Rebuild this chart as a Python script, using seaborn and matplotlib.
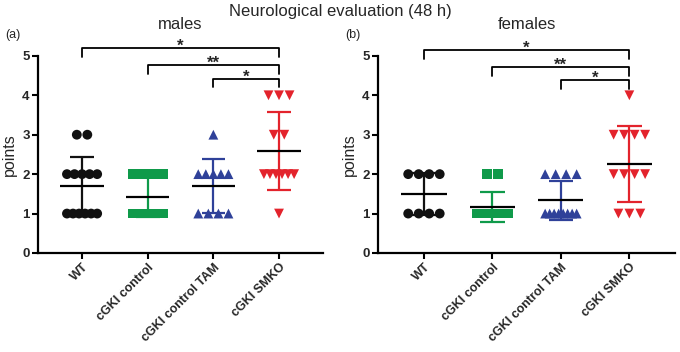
import numpy as np
import pandas as pd
import matplotlib
matplotlib.use("Agg")
import matplotlib.pyplot as plt
import seaborn as sns

sns.set_style("ticks")
plt.rcParams["font.family"] = ["Liberation Sans", "DejaVu Sans"]

groups = ["WT", "cGKI control", "cGKI control TAM", "cGKI SMKO"]
colors = ["#111111", "#0f9a4a", "#2f4199", "#e3232c"]
markers = ["o", "s", "^", "v"]

# males (points)
males_wt = [3, 3, 2, 2, 2, 2, 2, 1, 1, 1, 1, 1, 1]
males_ctrl = [2, 2, 2, 2, 2, 1, 1, 1, 1, 1, 1, 1]
males_tam = [3, 2, 2, 2, 2, 2, 1, 1, 1, 1]
males_smko = [4, 4, 4, 3, 3, 2, 2, 2, 2, 2, 2, 1]
# females (points)
females_wt = [2, 2, 2, 2, 1, 1, 1, 1]
females_ctrl = [2, 2, 1, 1, 1, 1, 1, 1, 1, 1, 1, 1]
females_tam = [2, 2, 2, 2, 1, 1, 1, 1, 1, 1, 1, 1]
females_smko = [4, 3, 3, 3, 3, 2, 2, 2, 2, 1, 1, 1]

comparisons = [(0, 3, "*"), (1, 3, "**"), (2, 3, "*")]
bracket_y_males = [5.2, 4.77, 4.42]
bracket_y_females = [5.15, 4.72, 4.39]


def offsets(vals, step=0.16, half_max=0.23):
    vals = np.asarray(vals)
    off = np.zeros(len(vals))
    for v in np.unique(vals):
        idx = np.where(vals == v)[0]
        c = len(idx)
        if c > 1:
            span = min(step * (c - 1), 2 * half_max)
            off[idx] = np.linspace(-span / 2, span / 2, c)
    return off


def build(series):
    rows = []
    for gi, (g, vals) in enumerate(zip(groups, series)):
        off = offsets(vals)
        for v, o in zip(vals, off):
            rows.append({"group": g, "gi": gi, "value": v, "xpos": gi + o})
    return pd.DataFrame(rows)


fig = plt.figure(figsize=(6.8, 3.52), dpi=100)
ax1 = fig.add_axes([0.056, 0.2813, 0.419, 0.560])
ax2 = fig.add_axes([0.556, 0.2813, 0.437, 0.560])

panels = [
    (ax1, [males_wt, males_ctrl, males_tam, males_smko], "males", bracket_y_males, "(a)", 0.008),
    (ax2, [females_wt, females_ctrl, females_tam, females_smko], "females", bracket_y_females, "(b)", 0.508),
]

for ax, series, title, by, lab, lx in panels:
    df = build(series)
    sns.scatterplot(data=df, x="xpos", y="value", hue="group", style="group",
                    palette=dict(zip(groups, colors)), markers=dict(zip(groups, markers)),
                    hue_order=groups, style_order=groups,
                    s=50, edgecolor="none", linewidth=0, legend=False, ax=ax, zorder=2)
    stats = df.groupby("gi")["value"].agg(["mean", "std"])
    for gi, row in stats.iterrows():
        c = colors[gi]
        m, sd = row["mean"], row["std"]
        ax.vlines(gi, m - sd, m + sd, color=c, lw=1.6, zorder=3)
        ax.hlines([m - sd, m + sd], gi - 0.18, gi + 0.18, color=c, lw=1.6, zorder=3)
        ax.hlines(m, gi - 0.33, gi + 0.33, color="black", lw=1.6, zorder=4)
    for (a, b, txt), yb in zip(comparisons, by):
        ax.plot([a, a, b, b], [yb - 0.22, yb, yb, yb - 0.22], color="black", lw=1.3,
                clip_on=False, zorder=5)
        ax.text((a + b) / 2, yb - 0.08, txt, ha="center", va="baseline", fontsize=12,
                fontweight="bold", clip_on=False)
    ax.set_xlim(-0.67, 3.67)
    ax.set_ylim(0, 5)
    ax.set_xticks(range(4))
    ax.set_xticklabels(groups, rotation=45, ha="right", rotation_mode="anchor",
                       fontsize=9, fontweight="bold")
    ax.set_yticks([0, 1, 2, 3, 4, 5])
    ax.set_yticklabels(["0", "1", "2", "3", "4", "5"], fontsize=9.5, fontweight="bold")
    ax.set_xlabel("")
    ax.set_ylabel("points", fontsize=11.5, labelpad=4)
    ax.set_title(title, fontsize=12, pad=19)
    for s in ["top", "right"]:
        ax.spines[s].set_visible(False)
    for s in ["left", "bottom"]:
        ax.spines[s].set_linewidth(1.6)
        ax.spines[s].set_color("black")
    ax.tick_params(axis="both", length=4, width=1.5, color="black", pad=2)
    fig.text(lx, 0.90, lab, fontsize=9, ha="left", va="center")

fig.text(0.5, 0.968, "Neurological evaluation (48 h)", ha="center", va="center", fontsize=12)

fig.savefig("out.png", dpi=100)
